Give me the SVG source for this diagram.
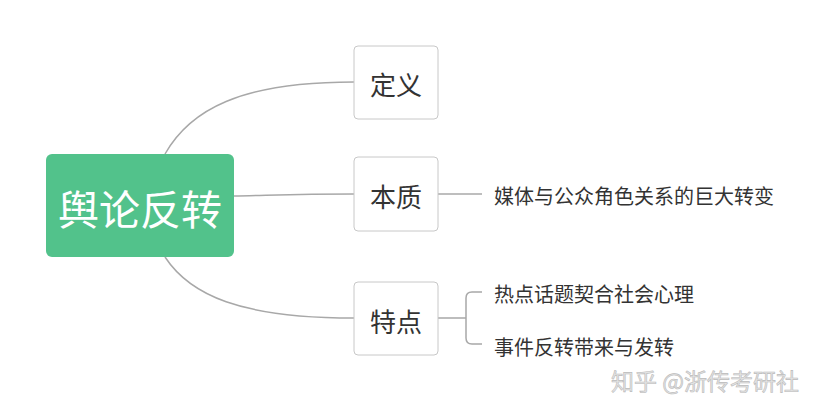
<svg xmlns="http://www.w3.org/2000/svg" width="836" height="413" viewBox="0 0 836 413">
<style>
.c{fill:none;stroke:#a8a8a8;stroke-width:1.5}
.b{fill:#fff;stroke:#c8c8c8;stroke-width:1}
.t{font-family:"Noto Sans CJK SC",sans-serif;fill:#333;text-anchor:middle;dominant-baseline:central}
.l{font-family:"Noto Sans CJK SC",sans-serif;fill:#333;font-size:20px;dominant-baseline:central}
</style>
<rect width="836" height="413" fill="#fff"/>
<g id="connectors">
<path class="c" d="M165,154 C190,110 240,82 354,82"/>
<path class="c" d="M234,196 C280,195 300,194 354,194"/>
<path class="c" d="M165,257 C190,295 240,318 354,318"/>
<path class="c" d="M438,194 H482"/>
<path class="c" d="M438,318 H466 M482,292 H472 Q466,292 466,298 V338 Q466,344 472,344 H482"/>
</g>
<g id="root"><rect x="46" y="154" width="188" height="103" rx="6" fill="#52c28b"/><text class="t" x="140" y="207" font-size="41" style="fill:#fff">舆论反转</text></g>
<g id="n1"><rect class="b" x="354" y="46" width="84" height="73" rx="4"/><text class="t" x="396" y="83" font-size="26">定义</text></g>
<g id="n2"><rect class="b" x="354" y="157" width="84" height="74" rx="4"/><text class="t" x="396" y="195" font-size="26">本质</text></g>
<g id="n3"><rect class="b" x="354" y="282" width="84" height="73" rx="4"/><text class="t" x="396" y="320" font-size="26">特点</text></g>
<g id="l1"><text class="l" x="494" y="195">媒体与公众角色关系的巨大转变</text></g>
<g id="l2"><text class="l" x="494" y="293">热点话题契合社会心理</text></g>
<g id="l3"><text class="l" x="494" y="346">事件反转带来与发转</text></g>
<text x="611" y="380" font-family="Noto Sans CJK SC,sans-serif" font-size="23" fill="#e4e4e4" stroke="#bbb" stroke-width="0.6" dominant-baseline="central">知乎 @浙传考研社</text>
</svg>
